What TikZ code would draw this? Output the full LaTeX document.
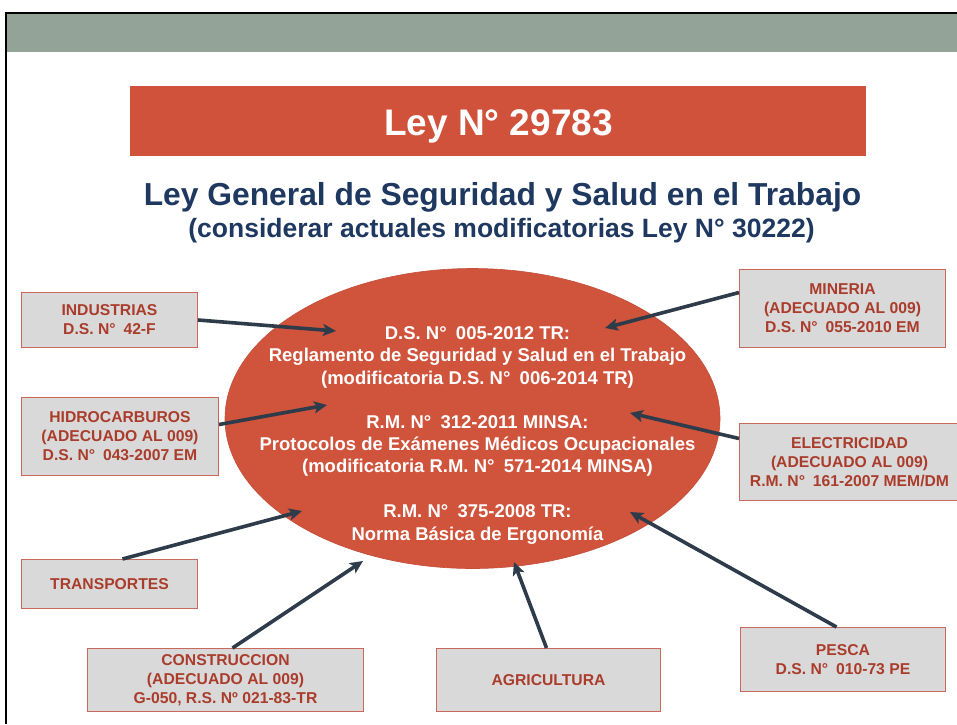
\documentclass[tikz,border=0pt]{standalone}
\usepackage{fontspec}
\setmainfont{Liberation Sans}
\usetikzlibrary{shapes.geometric,arrows.meta}
\definecolor{barGray}{RGB}{147,163,151}
\definecolor{titleRed}{RGB}{208,82,58}
\definecolor{ellRed}{RGB}{208,83,59}
\definecolor{ellBorder}{RGB}{196,78,57}
\definecolor{subBlue}{RGB}{30,56,96}
\definecolor{arrowCol}{RGB}{46,59,74}
\definecolor{boxFill}{RGB}{217,217,217}
\definecolor{boxBorder}{RGB}{200,105,92}
\definecolor{boxText}{RGB}{170,60,44}
\tikzset{
  sbox/.style={draw=boxBorder, fill=boxFill, line width=1pt, text=boxText,
    font=\fontsize{15.7}{19}\selectfont\bfseries, align=center, inner sep=0pt},
  conn/.style={draw=arrowCol, line width=3.6pt,
    -{Stealth[length=13pt,width=12pt,inset=3pt]}},
}
\begin{document}
\begin{tikzpicture}[x=1pt,y=-1pt]
\useasboundingbox (0,0) rectangle (957,724);
% frame and top bar
\fill[barGray] (6,14) rectangle (957,52);
\draw[black, line width=2pt] (5.5,724) -- (5.5,12.5) -- (957,12.5);
% title
\node[fill=titleRed, minimum width=736pt, minimum height=70pt, inner sep=0pt, anchor=north west] (titlebox) at (130,86) {};
\node[text=white, font=\fontsize{37}{44}\selectfont\bfseries, anchor=base] (titletxt) at (498.5,135) {Ley N° 29783};
\node[text=subBlue, font=\fontsize{31.8}{38}\selectfont\bfseries, anchor=base] (sub1) at (502.5,205) {Ley General de Seguridad y Salud en el Trabajo};
\node[text=subBlue, font=\fontsize{26.5}{32}\selectfont\bfseries, anchor=base] (sub2) at (501.5,237) {(considerar actuales modificatorias Ley N° 30222)};
% ellipse
\node[ellipse, draw=ellBorder, fill=ellRed, line width=0.6pt, minimum width=495pt, minimum height=300pt, inner sep=0pt] (ell) at (472.5,418.5) {};
\node[text=white, font=\fontsize{18.5}{22.2}\selectfont\bfseries, align=center, inner sep=0pt] (elltxt) at (477.5,435.4)
 {D.S. N°\hspace{0.5em}005-2012 TR:\\
  Reglamento de Seguridad y Salud en el Trabajo\\
  (modificatoria D.S. N°\hspace{0.5em}006-2014 TR)\\[22pt]
  R.M. N°\hspace{0.5em}312-2011 MINSA:\\
  Protocolos de Exámenes Médicos Ocupacionales\\
  (modificatoria R.M. N°\hspace{0.5em}571-2014 MINSA)\\[23pt]
  R.M. N°\hspace{0.5em}375-2008 TR:\\
  Norma Básica de Ergonomía};
% boxes
\node[sbox, minimum width=176pt, minimum height=55pt, anchor=north west] (ind) at (21,292) {INDUSTRIAS\\D.S. N°\hspace{0.5em}42-F};
\node[sbox, minimum width=197pt, minimum height=78pt, anchor=north west] (hid) at (21,397) {HIDROCARBUROS\\(ADECUADO AL 009)\\D.S. N°\hspace{0.5em}043-2007 EM};
\node[sbox, minimum width=176pt, minimum height=49pt, anchor=north west] (tra) at (21,559) {TRANSPORTES};
\node[sbox, minimum width=276pt, minimum height=63pt, anchor=north west] (con) at (87,648) {CONSTRUCCION\\(ADECUADO AL 009)\\G-050, R.S. Nº 021-83-TR};
\node[sbox, minimum width=224pt, minimum height=63pt, anchor=north west] (agr) at (436,648) {AGRICULTURA};
\node[sbox, minimum width=205pt, minimum height=64pt, anchor=north west] (pes) at (740,627) {PESCA\\D.S. N°\hspace{0.5em}010-73 PE};
\node[sbox, minimum width=206pt, minimum height=78pt, anchor=north west] (min) at (739,269) {MINERIA\\(ADECUADO AL 009)\\D.S. N°\hspace{0.5em}055-2010 EM};
\node[sbox, minimum width=220pt, minimum height=77pt, anchor=north west] (ele) at (739,423) {ELECTRICIDAD\\(ADECUADO AL 009)\\R.M. N°\hspace{0.5em}161-2007 MEM/DM};
% arrow tips
\coordinate (tInd) at (336,331);
\coordinate (tHid) at (327,405);
\coordinate (tMin) at (605,328);
\coordinate (tEle) at (630,413);
\coordinate (tTra) at (302,511);
\coordinate (tCon) at (363,561);
\coordinate (tAgr) at (514,562);
\coordinate (tPes) at (630,512);
% connectors
\draw[conn] (ind.east) -- (tInd);
\draw[conn] ([yshift=12pt]hid.east) -- (tHid);
\draw[conn] ([yshift=16pt]min.west) -- (tMin);
\draw[conn] ([yshift=23.5pt]ele.west) -- (tEle);
\draw[conn] ([xshift=13pt]tra.north) -- (tTra);
\draw[conn] ([xshift=7pt]con.north) -- (tCon);
\draw[conn] ([xshift=-2pt]agr.north) -- (tAgr);
\draw[conn] ([xshift=-6.5pt]pes.north) -- (tPes);
\end{tikzpicture}
\end{document}
